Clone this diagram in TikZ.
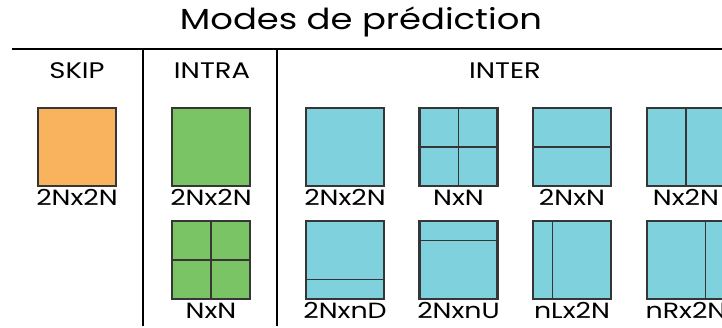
\documentclass[tikz,border=0pt]{standalone}
\usepackage{fontspec}
\setmainfont{Poppins}[FakeStretch=1.22]
\usetikzlibrary{positioning}
\definecolor{skipcol}{HTML}{F9B25E}
\definecolor{intracol}{HTML}{7AC466}
\definecolor{intercol}{HTML}{7FD1DE}
\definecolor{bord}{HTML}{363636}
\tikzset{
  blk/.style={rectangle,draw=bord,line width=2.2pt,minimum size=78pt,inner sep=0pt},
  part/.style={draw=bord,line width=1.1pt},
  lbl/.style={font=\fontsize{22}{22}\selectfont,inner sep=0pt,text height=16pt,text depth=0pt,below=2pt of #1},
  hdr/.style={font=\fontsize{22.5}{22.5}\selectfont,anchor=base},
  sep/.style={line width=2pt}
}

\begin{document}
\begin{tikzpicture}[x=1pt,y=-1pt]
\useasboundingbox (0,0) rectangle (722,328);
\clip (0,0) rectangle (722,328);
%title and header lines
\node (titre) [font=\fontsize{29}{29}\selectfont,anchor=base] at (361,30) {Modes de prédiction};
\coordinate (hl) at (12,49);
\coordinate (hr) at (722,49);
\coordinate (v1t) at (143,49);
\coordinate (v1b) at (143,326);
\coordinate (v2t) at (277,49);
\coordinate (v2b) at (277,326);
\draw[sep] (hl)--(hr);
\draw[sep] (v1t)--(v1b);
\draw[sep] (v2t)--(v2b);
\path (77,79) node(hskip)[hdr]{SKIP}
(212,79) node(hintra)[hdr]{INTRA}
(505,79) node(hinter)[hdr]{INTER};
%SKIP
\node (s1) [blk,fill=skipcol] at (77,147) {};
\node [lbl=s1] {2Nx2N};
%INTRA
\node (a1) [blk,fill=intracol] at (211,147) {};
\node [lbl=a1] {2Nx2N};
\node (a2) [blk,fill=intracol] at (211,260) {};
\node [lbl=a2] {NxN};
\draw[part] (a2.north)--(a2.south) (a2.west)--(a2.east);
%INTER
\node (e1) [blk,fill=intercol] at (345,147) {};
\node [lbl=e1] {2Nx2N};
\node (e2) [blk,fill=intercol] at (458.5,147) {};
\node [lbl=e2] {NxN};
\node (e3) [blk,fill=intercol] at (572,147) {};
\node [lbl=e3] {2NxN};
\node (e4) [blk,fill=intercol] at (686,147) {};
\node [lbl=e4] {Nx2N};
\node (e5) [blk,fill=intercol] at (345,260) {};
\node [lbl=e5] {2NxnD};
\node (e6) [blk,fill=intercol] at (458.5,260) {};
\node [lbl=e6] {2NxnU};
\node (e7) [blk,fill=intercol] at (572,260) {};
\node [lbl=e7] {nLx2N};
\node (e8) [blk,fill=intercol] at (686,260) {};
\node [lbl=e8] {nRx2N};
\draw[part] (e2.north)--(e2.south) (e2.west)--(e2.east);
\draw[part] (e3.west)--(e3.east);
\draw[part] (e4.north)--(e4.south);
\draw[part] ([yshift=-19.5]e5.west)--([yshift=-19.5]e5.east);
\draw[part] ([yshift=19.5]e6.west)--([yshift=19.5]e6.east);
\draw[part] ([xshift=-19.5]e7.north)--([xshift=-19.5]e7.south);
\draw[part] ([xshift=19.5]e8.north)--([xshift=19.5]e8.south);
\end{tikzpicture}
\end{document}
